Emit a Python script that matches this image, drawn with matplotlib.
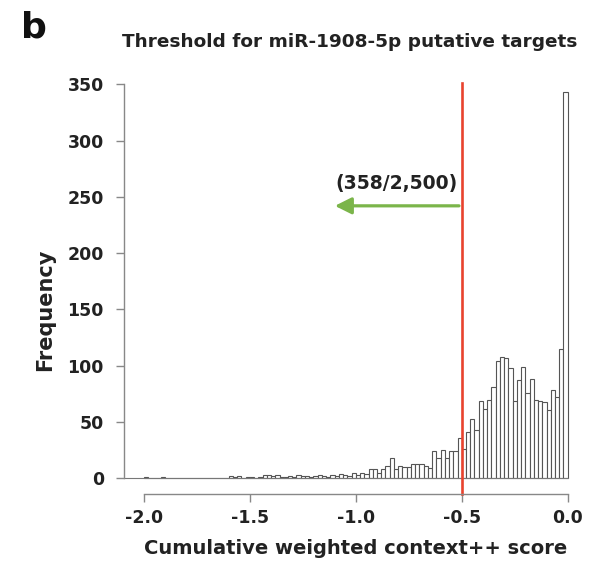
import numpy as np
import matplotlib
matplotlib.use("Agg")
import matplotlib.pyplot as plt

plt.rcParams['font.family'] = ['DejaVu Sans']
plt.rcParams['font.weight'] = 'bold'

# histogram of context++ scores, bins of 0.02 from -2.0 to 0.0
bin_edges = np.round(np.arange(-2.0, 0.0001, 0.02), 2)
counts = [
    1, 0, 0, 0, 1, 0, 0, 0, 0, 0,
    0, 0, 0, 0, 0, 0, 0, 0, 0, 0,
    2, 1, 2, 0, 1, 1, 0, 1, 3, 3,
    2, 3, 1, 1, 2, 1, 3, 2, 2, 1,
    2, 3, 2, 1, 3, 2, 4, 3, 2, 5,
    3, 5, 4, 8, 8, 5, 8, 11, 18, 8,
    11, 10, 10, 13, 13, 13, 11, 9, 24, 18,
    25, 18, 24, 24, 36, 26, 41, 53, 43, 69,
    62, 70, 81, 104, 108, 107, 98, 69, 87, 99,
    76, 88, 70, 69, 68, 61, 78, 72, 115, 343,
]
threshold = -0.5
label_text = "(358/2,500)"
x_ticks = [-2.0, -1.5, -1.0, -0.5, 0.0]
y_ticks = [0, 50, 100, 150, 200, 250, 300, 350]

fig = plt.figure(figsize=(5.93, 5.63), dpi=100)
ax = fig.add_axes([0.2091, 0.1234, 0.759, 0.737])

ax.bar(bin_edges[:-1], counts, width=0.02, align='edge',
       facecolor='white', edgecolor='#555555', linewidth=0.8)
ax.plot([bin_edges[0] - 0.1, bin_edges[-1]], [0, 0], color='#777777', lw=0.8)

ax.set_xlim(-2.094, 0.03)
ax.set_ylim(-13.5, 355)

ax.axvline(threshold, ymin=0.0, ymax=0.99, color='#E8432E', lw=1.9, clip_on=False)
ax.annotate('', xy=(-1.112, 242), xytext=(threshold, 242),
            arrowprops=dict(arrowstyle='-|>,head_length=1.0,head_width=0.5',
                            color='#7BB54A', lw=2.3))
ax.text(-0.807, 262, label_text, ha='center', va='center', fontsize=13.5,
        fontweight='bold', color='#222222')

ax.spines['top'].set_visible(False)
ax.spines['right'].set_visible(False)
ax.spines['left'].set_bounds(0, 350)
ax.spines['bottom'].set_bounds(-2.0, 0.0)
for s in ['left', 'bottom']:
    ax.spines[s].set_color('#888888')
    ax.spines[s].set_linewidth(1.0)

ax.set_xticks(x_ticks)
ax.set_xticklabels([f"{t:.1f}" for t in x_ticks])
ax.set_yticks(y_ticks)
ax.tick_params(axis='both', colors='#888888', labelcolor='#222222',
               labelsize=12.5, length=5.5, width=1.0)
ax.tick_params(axis='y', pad=9)
ax.tick_params(axis='x', pad=6)
for lab in ax.get_xticklabels() + ax.get_yticklabels():
    lab.set_fontweight('bold')

# axis titles placed on the figure to match the original layout
fig.text(356 / 593, 1 - 549 / 563, "Cumulative weighted context++ score",
         ha='center', va='center', fontsize=14, fontweight='bold', color='#222222')
fig.text(45 / 593, 1 - 310 / 563, "Frequency", rotation=90,
         ha='center', va='center', fontsize=15, fontweight='bold', color='#222222')

fig.text(0.589, 0.925, "Threshold for miR-1908-5p putative targets",
         ha='center', va='center', fontsize=13.3, fontweight='bold', color='#222222')
fig.text(0.057, 0.952, "b", ha='center', va='center', fontsize=26,
         fontweight='bold', color='#111111')

fig.savefig("out.png", dpi=100)
